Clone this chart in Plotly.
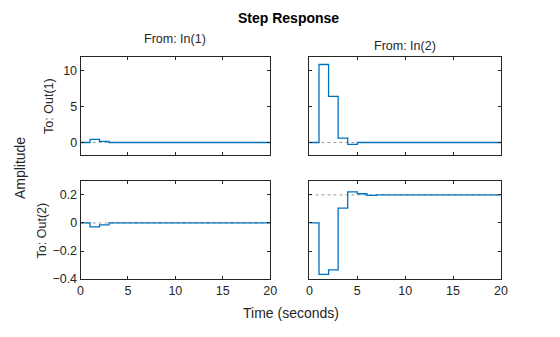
import plotly.graph_objects as go

# Data (discrete step response, Ts = 1 s)
time = list(range(0, 21))
y11 = [0, 0.45, 0.15] + [0] * 18
y12 = [0, 10.9, 6.45, 0.6, -0.27] + [0] * 16
y21 = [0, -0.028, -0.014] + [0] * 18
y22 = [0, -0.367, -0.335, 0.105, 0.222, 0.208, 0.196] + [0.2] * 14
ss = {"11": 0, "12": 0, "21": 0, "22": 0.2}

col_in = ["From: In(1)", "From: In(2)"]
row_out = ["To: Out(1)", "To: Out(2)"]
x_ticks = [0, 5, 10, 15, 20]
top_ticks = [0, 5, 10]
bot_ticks = [-0.4, -0.2, 0, 0.2]

BLUE = "#0072BD"
TXT = "#262626"
FONT = "Liberation Sans, Arial, sans-serif"

fig = go.Figure()

panels = [
    ("11", y11, "x", "y"),
    ("12", y12, "x2", "y2"),
    ("21", y21, "x3", "y3"),
    ("22", y22, "x4", "y4"),
]
for key, ys, xa, ya in panels:
    fig.add_trace(go.Scatter(x=[time[0], time[-1]], y=[ss[key], ss[key]], mode="lines",
                             line=dict(color="#9a9a9a", width=1, dash="dot"),
                             xaxis=xa, yaxis=ya, hoverinfo="skip", showlegend=False))
    fig.add_trace(go.Scatter(x=time, y=ys, mode="lines", line_shape="hv",
                             line=dict(color=BLUE, width=1.3),
                             xaxis=xa, yaxis=ya, showlegend=False))

W, H = 560, 337
xl = [79 / W, 272 / W]
xr = [312 / W, 507 / W]
yt = [1 - 158.7 / H, 1 - 57.8 / H]
yb = [1 - 285 / H, 1 - 184.7 / H]

common = dict(showline=True, linecolor=TXT, linewidth=1, mirror="ticks", ticks="inside",
              ticklen=3, tickcolor=TXT, showgrid=False, zeroline=False,
              tickfont=dict(family=FONT, size=12.5, color=TXT))

def xax(dom, labels, anchor):
    return dict(common, domain=dom, range=[0, 20], tickvals=x_ticks, anchor=anchor,
                showticklabels=labels)

def yax(dom, rng, tv, labels, anchor):
    return dict(common, domain=dom, range=rng, tickvals=tv, anchor=anchor,
                showticklabels=labels)

fig.update_layout(
    width=W, height=H, margin=dict(l=0, r=0, t=0, b=0),
    paper_bgcolor="white", plot_bgcolor="white",
    xaxis=xax(xl, False, "y"),
    yaxis=yax(yt, [-1.8, 12], top_ticks, True, "x"),
    xaxis2=xax(xr, False, "y2"),
    yaxis2=yax(yt, [-1.8, 12], top_ticks, False, "x2"),
    xaxis3=xax(xl, True, "y3"),
    yaxis3=yax(yb, [-0.4, 0.3], bot_ticks, True, "x3"),
    xaxis4=xax(xr, True, "y4"),
    yaxis4=yax(yb, [-0.4, 0.3], bot_ticks, False, "x4"),
)

def ann(text, x, y, size=12.5, bold=False, angle=0):
    fig.add_annotation(text=("<b>%s</b>" % text) if bold else text,
                       x=x / W, y=1 - y / H, xref="paper", yref="paper",
                       showarrow=False, textangle=angle,
                       font=dict(family=FONT, size=size, color="black" if bold else TXT),
                       xanchor="center", yanchor="middle")

ann("Step Response", 291, 18, size=14, bold=True)
ann(col_in[0], 175, 40)
ann(col_in[1], 409, 47)
ann(row_out[0], 47, 108, angle=-90)
ann(row_out[1], 40, 235, angle=-90)
ann("Amplitude", 18, 172, size=14, angle=-90)
ann("Time (seconds)", 293, 320, size=14)

fig.write_html("out.html")
